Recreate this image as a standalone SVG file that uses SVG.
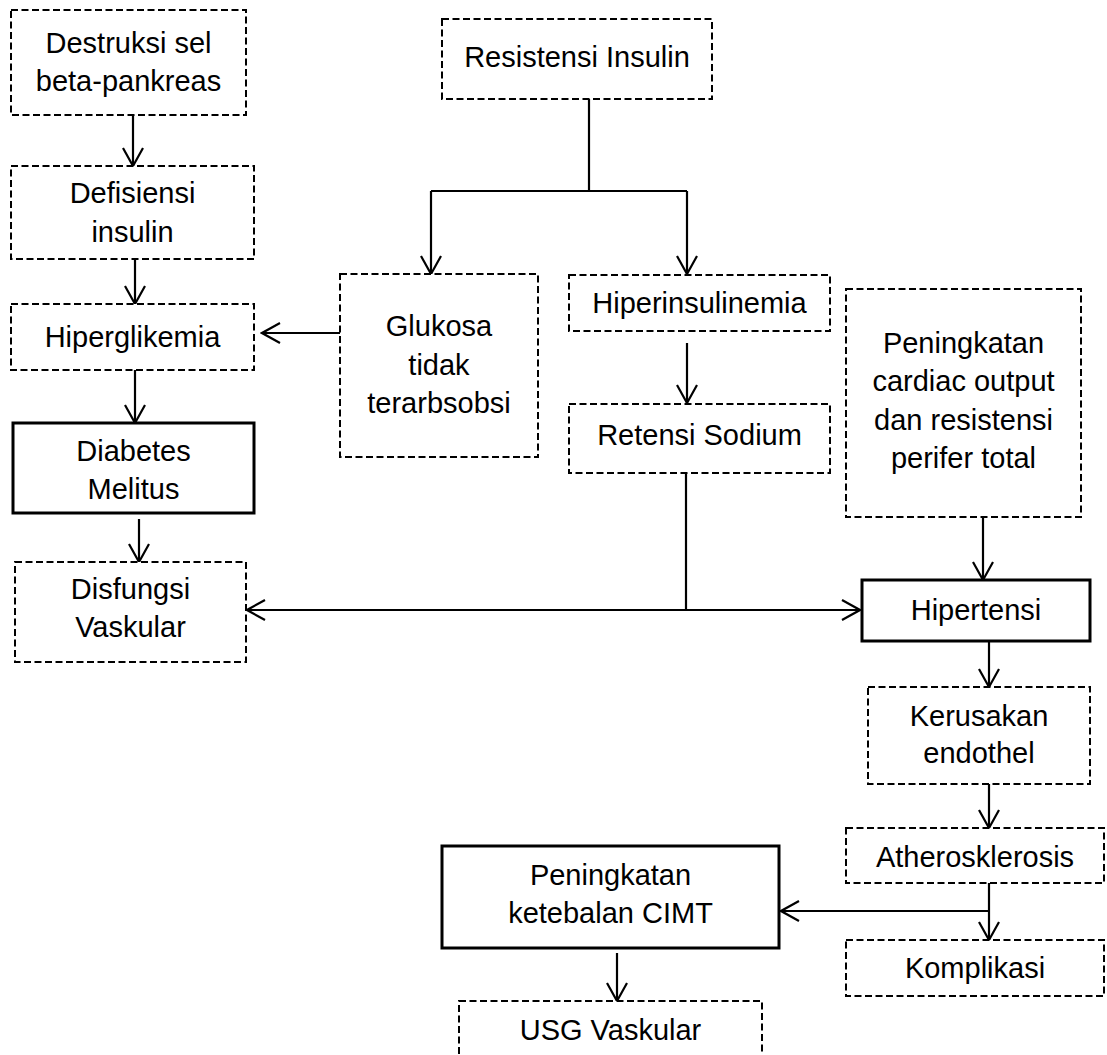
<svg xmlns="http://www.w3.org/2000/svg" width="1107" height="1055" viewBox="0 0 1107 1055">
<defs>
<style>
.dash{fill:#fff;stroke:#000;stroke-width:2;stroke-dasharray:7 3.5}
.solid{fill:#fff;stroke:#000;stroke-width:3}
.t{font-family:"Liberation Sans",Arial,sans-serif;font-size:29px;fill:#000;text-anchor:middle}
.c{fill:none;stroke:#000;stroke-width:2.2}
</style>
<marker id="ah" viewBox="-20 -12 22 24" markerWidth="22" markerHeight="24" refX="0" refY="0" orient="auto" markerUnits="userSpaceOnUse">
<path d="M-18,-10 L0,0 L-18,10" fill="none" stroke="#000" stroke-width="2.2"/>
</marker>
</defs>
<rect width="1107" height="1055" fill="#fff"/>
<g id="connectors">
<line class="c" x1="133" y1="115" x2="133" y2="166" marker-end="url(#ah)"/>
<line class="c" x1="135" y1="259" x2="135" y2="304" marker-end="url(#ah)"/>
<line class="c" x1="135" y1="370" x2="135" y2="423" marker-end="url(#ah)"/>
<line class="c" x1="139" y1="519" x2="139" y2="562" marker-end="url(#ah)"/>
<line class="c" x1="340" y1="333" x2="262" y2="333" marker-end="url(#ah)"/>
<polyline class="c" points="589,99 589,191"/>
<polyline class="c" points="431,191 687,191"/>
<line class="c" x1="431" y1="191" x2="431" y2="274" marker-end="url(#ah)"/>
<line class="c" x1="687" y1="191" x2="687" y2="274" marker-end="url(#ah)"/>
<line class="c" x1="687" y1="343" x2="687" y2="403" marker-end="url(#ah)"/>
<polyline class="c" points="686,473 686,610"/>
<line class="c" x1="686" y1="610" x2="247" y2="610" marker-end="url(#ah)"/>
<line class="c" x1="686" y1="610" x2="860" y2="610" marker-end="url(#ah)"/>
<line class="c" x1="983" y1="517" x2="983" y2="580" marker-end="url(#ah)"/>
<line class="c" x1="989" y1="641" x2="989" y2="687" marker-end="url(#ah)"/>
<line class="c" x1="989" y1="784" x2="989" y2="828" marker-end="url(#ah)"/>
<line class="c" x1="989" y1="883" x2="989" y2="940" marker-end="url(#ah)"/>
<line class="c" x1="989" y1="911" x2="781" y2="911" marker-end="url(#ah)"/>
<line class="c" x1="617" y1="953" x2="617" y2="1001" marker-end="url(#ah)"/>
</g>
<g id="destruksi">
<rect class="dash" x="11" y="10" width="235" height="105"/>
<text class="t" x="128.5" y="52.5">Destruksi sel</text>
<text class="t" x="128.5" y="91">beta-pankreas</text>
</g>
<g id="defisiensi">
<rect class="dash" x="11" y="166" width="243" height="93"/>
<text class="t" x="132.5" y="203">Defisiensi</text>
<text class="t" x="132.5" y="241.5">insulin</text>
</g>
<g id="hiperglikemia">
<rect class="dash" x="11" y="304" width="243" height="66"/>
<text class="t" x="132.5" y="347">Hiperglikemia</text>
</g>
<g id="diabetes">
<rect class="solid" x="13" y="423" width="241" height="90"/>
<text class="t" x="133.5" y="461">Diabetes</text>
<text class="t" x="133.5" y="499">Melitus</text>
</g>
<g id="disfungsi">
<rect class="dash" x="15" y="562" width="231" height="100"/>
<text class="t" x="130.5" y="599">Disfungsi</text>
<text class="t" x="130.5" y="637">Vaskular</text>
</g>
<g id="resistensi">
<rect class="dash" x="442" y="19" width="270" height="80"/>
<text class="t" x="577" y="67">Resistensi Insulin</text>
</g>
<g id="glukosa">
<rect class="dash" x="340" y="274" width="198" height="183"/>
<text class="t" x="439" y="336">Glukosa</text>
<text class="t" x="439" y="374.5">tidak</text>
<text class="t" x="439" y="413">terarbsobsi</text>
</g>
<g id="hiperinsulinemia">
<rect class="dash" x="569" y="275" width="261" height="56"/>
<text class="t" x="699.5" y="313">Hiperinsulinemia</text>
</g>
<g id="retensi">
<rect class="dash" x="569" y="404" width="261" height="69"/>
<text class="t" x="699.5" y="445">Retensi Sodium</text>
</g>
<g id="cardiac">
<rect class="dash" x="846" y="289" width="235" height="228"/>
<text class="t" x="963.5" y="353">Peningkatan</text>
<text class="t" x="963.5" y="391">cardiac output</text>
<text class="t" x="963.5" y="429.5">dan resistensi</text>
<text class="t" x="963.5" y="468">perifer total</text>
</g>
<g id="hipertensi">
<rect class="solid" x="862" y="580" width="228" height="61"/>
<text class="t" x="976" y="620">Hipertensi</text>
</g>
<g id="kerusakan">
<rect class="dash" x="868" y="687" width="222" height="97"/>
<text class="t" x="979" y="726">Kerusakan</text>
<text class="t" x="979" y="763">endothel</text>
</g>
<g id="atherosklerosis">
<rect class="dash" x="846" y="828" width="258" height="55"/>
<text class="t" x="975" y="867">Atherosklerosis</text>
</g>
<g id="komplikasi">
<rect class="dash" x="846" y="940" width="258" height="56"/>
<text class="t" x="975" y="978">Komplikasi</text>
</g>
<g id="cimt">
<rect class="solid" x="442" y="846" width="337" height="102"/>
<text class="t" x="610.5" y="885">Peningkatan</text>
<text class="t" x="610.5" y="923">ketebalan CIMT</text>
</g>
<g id="usg">
<rect class="dash" x="459" y="1001" width="303" height="70"/>
<text class="t" x="610.5" y="1040">USG Vaskular</text>
</g>
</svg>
